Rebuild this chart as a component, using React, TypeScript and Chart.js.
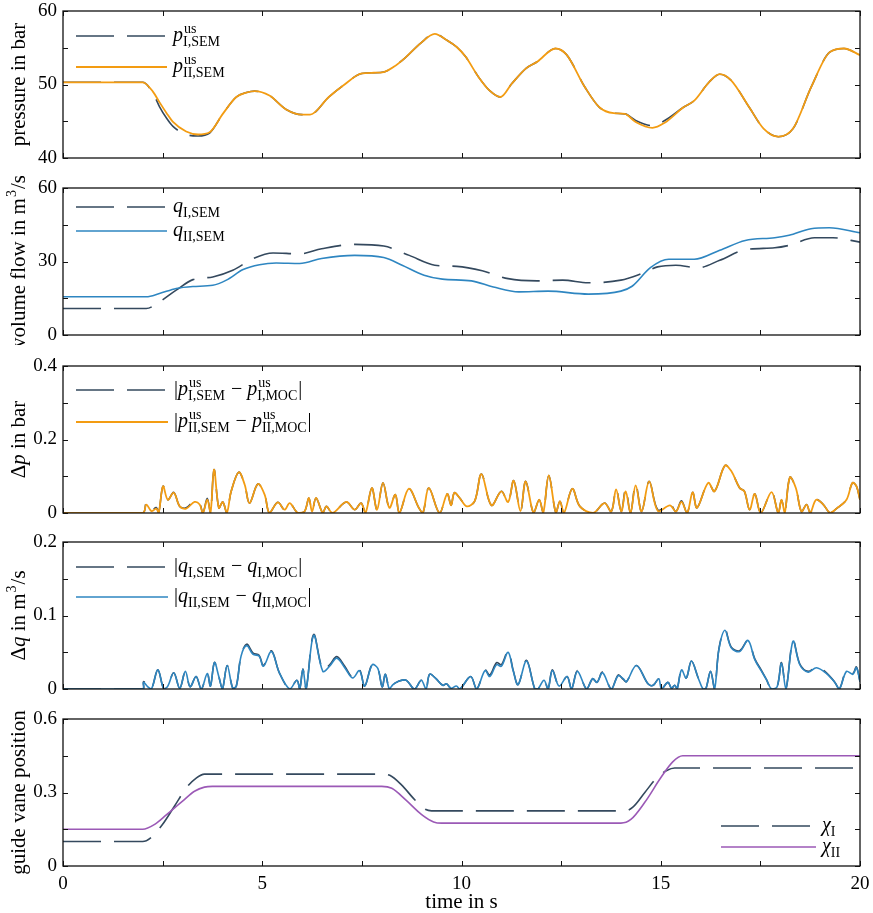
import React, { useEffect, useRef } from 'react';
import { Chart, registerables } from 'chart.js';
Chart.register(...registerables);

const FONT = '"Liberation Serif", "Times New Roman", serif';
const DARK = '#34495e';
const ORANGE = '#f39c12';
const BLUE = '#2e86c1';
const PURPLE = '#9b59b6';

// ---------------- data ----------------
const xTicks = [0, 2.5, 5, 7.5, 10, 12.5, 15, 17.5, 20];
const xLabels = [0, 5, 10, 15, 20];

const pTicks = [40, 45, 50, 55, 60];
const pLabels = [40, 50, 60];
const qTicks = [0, 15, 30, 45, 60];
const qLabels = [0, 30, 60];
const dpTicks = [0, 0.1, 0.2, 0.3, 0.4];
const dpLabels = [0, 0.2, 0.4];
const dqTicks = [0, 0.05, 0.1, 0.15, 0.2];
const dqLabels = [0, 0.1, 0.2];
const chiTicks = [0, 0.15, 0.3, 0.45, 0.6];
const chiLabels = [0, 0.3, 0.6];

type Pt = [number, number];

const pII: Pt[] = [[0, 50.3], [1, 50.3], [2.0, 50.3], [2.26, 49.0], [2.42, 47.6], [2.6, 46.1], [2.76, 44.9], [3.09, 43.6], [3.39, 43.2], [3.68, 43.5], [4.01, 46.0], [4.35, 48.3], [4.6, 48.9], [4.81, 49.1], [5.18, 48.5], [5.6, 46.6], [6.0, 45.9], [6.2, 45.9], [6.67, 48.3], [7.04, 49.9], [7.5, 51.5], [7.8, 51.6], [8.05, 51.7], [8.3, 52.4], [8.6, 53.7], [8.97, 55.6], [9.33, 56.9], [9.61, 56.1], [9.88, 55.1], [10.1, 53.8], [10.43, 51.0], [10.7, 49.2], [10.98, 48.3], [11.26, 50.1], [11.62, 52.2], [11.9, 53.1], [12.36, 54.9], [12.63, 54.1], [13.09, 49.7], [13.46, 46.9], [13.82, 46.1], [14.1, 46.0], [14.37, 44.9], [14.79, 44.1], [15.1, 44.8], [15.57, 46.9], [15.84, 47.8], [16.21, 50.3], [16.48, 51.4], [16.76, 50.6], [17.22, 46.9], [17.58, 44.0], [17.95, 42.9], [18.32, 44.0], [18.78, 49.7], [19.24, 54.4], [19.6, 54.9], [20, 54.0]];
const pI: Pt[] = [[0, 50.3], [1, 50.3], [2.0, 50.3], [2.26, 48.8], [2.42, 47.0], [2.6, 45.4], [2.76, 44.3], [3.09, 43.2], [3.39, 43.0], [3.68, 43.4], [4.01, 46.0], [4.35, 48.3], [4.6, 48.9], [4.81, 49.1], [5.18, 48.5], [5.6, 46.6], [6.0, 45.9], [6.2, 45.9], [6.67, 48.3], [7.04, 49.9], [7.5, 51.5], [7.8, 51.6], [8.05, 51.7], [8.3, 52.4], [8.6, 53.7], [8.97, 55.6], [9.33, 56.9], [9.61, 56.1], [9.88, 55.1], [10.1, 53.8], [10.43, 51.0], [10.7, 49.2], [10.98, 48.3], [11.26, 50.1], [11.62, 52.2], [11.9, 53.1], [12.36, 54.9], [12.63, 54.1], [13.09, 49.7], [13.46, 46.9], [13.82, 46.1], [14.1, 46.0], [14.37, 45.1], [14.79, 44.4], [15.1, 45.1], [15.57, 46.9], [15.84, 47.8], [16.21, 50.3], [16.48, 51.4], [16.76, 50.6], [17.22, 46.9], [17.58, 44.0], [17.95, 42.9], [18.32, 44.0], [18.78, 49.7], [19.24, 54.4], [19.6, 54.9], [20, 54.0]];

const qI: Pt[] = [[0, 10.8], [1, 10.8], [2.09, 10.8], [2.42, 13.5], [2.84, 18.3], [3.26, 22.6], [3.76, 23.7], [4.26, 26.4], [4.77, 31.2], [5.27, 33.5], [5.94, 33.1], [6.49, 35.2], [7.32, 37.0], [8.05, 36.3], [8.69, 32.5], [9.33, 28.5], [9.88, 28.0], [10.52, 26.2], [11.17, 23.0], [11.9, 22.1], [12.54, 22.4], [13.18, 21.3], [14.0, 22.4], [14.46, 24.7], [14.92, 27.8], [15.38, 28.5], [15.93, 27.4], [16.48, 30.5], [17.12, 34.8], [17.86, 35.6], [18.22, 36.6], [18.86, 39.7], [19.32, 39.7], [20, 37.9]];
const qII: Pt[] = [[0, 15.6], [1, 15.6], [2.09, 15.6], [2.42, 16.9], [2.84, 19.0], [3.26, 19.8], [3.76, 20.3], [4.1, 22.4], [4.52, 26.7], [4.93, 28.7], [5.35, 29.4], [5.94, 29.2], [6.49, 31.2], [7.32, 32.5], [8.05, 31.6], [8.51, 28.5], [9.06, 24.4], [9.52, 22.8], [10.25, 22.1], [10.8, 19.6], [11.44, 17.6], [12.17, 17.9], [13.18, 16.7], [14.0, 17.9], [14.28, 19.9], [14.74, 27.5], [15.2, 30.9], [15.84, 30.9], [16.48, 34.6], [17.12, 38.6], [17.86, 39.7], [18.22, 40.7], [18.77, 43.4], [19.23, 43.8], [20, 41.7]];

const dpII: Pt[] = [[0, 0], [2.0, 0], [2.09, 0.023], [2.22, 0.005], [2.34, 0.012], [2.4, 0], [2.51, 0.073], [2.63, 0.036], [2.78, 0.055], [2.93, 0.018], [3.09, 0.012], [3.3, 0.03], [3.43, 0.023], [3.51, 0], [3.62, 0.036], [3.7, 0], [3.79, 0.118], [3.91, 0.014], [4.01, 0.03], [4.11, 0], [4.22, 0.059], [4.41, 0.111], [4.56, 0.077], [4.68, 0.027], [4.89, 0.079], [5.06, 0.05], [5.18, 0], [5.39, 0.029], [5.56, 0.009], [5.69, 0.027], [5.89, 0], [6.06, 0.004], [6.17, 0.041], [6.25, 0.004], [6.35, 0.041], [6.52, 0], [6.61, 0.018], [6.76, 0], [7.11, 0.03], [7.32, 0.009], [7.48, 0.027], [7.59, 0], [7.75, 0.068], [7.88, 0.009], [8.03, 0.082], [8.19, 0.014], [8.34, 0.05], [8.44, 0], [8.68, 0.066], [8.93, 0.014], [9.03, 0], [9.18, 0.068], [9.45, 0], [9.64, 0.052], [9.74, 0.021], [9.82, 0.055], [9.96, 0.04], [10.13, 0.018], [10.33, 0.032], [10.5, 0.106], [10.75, 0.021], [11.0, 0.059], [11.17, 0.03], [11.31, 0.088], [11.48, 0.005], [11.61, 0.086], [11.81, 0], [11.95, 0.036], [12.05, 0], [12.19, 0.102], [12.37, 0], [12.47, 0.032], [12.57, 0], [12.78, 0.066], [12.97, 0.018], [13.3, 0], [13.59, 0.027], [13.76, 0.004], [13.88, 0.064], [14.01, 0.004], [14.12, 0.059], [14.24, 0], [14.37, 0.075], [14.52, 0.004], [14.71, 0.086], [14.93, 0.005], [15.23, 0.021], [15.38, 0.004], [15.52, 0.03], [15.66, 0], [15.8, 0.056], [15.91, 0.014], [16.19, 0.082], [16.35, 0.059], [16.61, 0.129], [16.77, 0.114], [16.98, 0.068], [17.1, 0.059], [17.23, 0.009], [17.36, 0.052], [17.51, 0], [17.78, 0.057], [17.95, 0], [18.03, 0.036], [18.11, 0], [18.24, 0.097], [18.39, 0.068], [18.53, 0.004], [18.66, 0.023], [18.75, 0], [18.9, 0.036], [19.08, 0.023], [19.25, 0], [19.41, 0.012], [19.66, 0.036], [19.81, 0.082], [19.91, 0.073], [20, 0.036]];
const dpI: Pt[] = [[0, 0], [2.0, 0], [2.09, 0.027], [2.22, 0.008], [2.34, 0.015], [2.4, 0], [2.51, 0.073], [2.63, 0.036], [2.78, 0.056], [2.93, 0.018], [3.09, 0.014], [3.3, 0.033], [3.43, 0.025], [3.51, 0], [3.62, 0.04], [3.7, 0], [3.79, 0.118], [3.91, 0.014], [4.01, 0.03], [4.11, 0], [4.22, 0.059], [4.41, 0.111], [4.56, 0.077], [4.68, 0.027], [4.89, 0.079], [5.06, 0.05], [5.18, 0], [5.39, 0.029], [5.56, 0.009], [5.69, 0.027], [5.89, 0], [6.06, 0.004], [6.17, 0.041], [6.25, 0.004], [6.35, 0.041], [6.52, 0], [6.61, 0.018], [6.76, 0], [7.11, 0.03], [7.32, 0.009], [7.48, 0.027], [7.59, 0], [7.75, 0.068], [7.88, 0.009], [8.03, 0.082], [8.19, 0.014], [8.34, 0.05], [8.44, 0], [8.68, 0.066], [8.93, 0.014], [9.03, 0], [9.18, 0.068], [9.45, 0], [9.64, 0.052], [9.74, 0.021], [9.82, 0.055], [9.96, 0.04], [10.13, 0.018], [10.33, 0.032], [10.5, 0.106], [10.75, 0.021], [11.0, 0.059], [11.17, 0.03], [11.31, 0.088], [11.48, 0.005], [11.61, 0.086], [11.81, 0], [11.95, 0.036], [12.05, 0], [12.19, 0.102], [12.37, 0], [12.47, 0.032], [12.57, 0], [12.78, 0.066], [12.97, 0.018], [13.3, 0], [13.59, 0.027], [13.76, 0.004], [13.88, 0.066], [14.01, 0.004], [14.12, 0.066], [14.24, 0], [14.37, 0.079], [14.52, 0.004], [14.71, 0.086], [14.93, 0.008], [15.23, 0.024], [15.38, 0.004], [15.52, 0.033], [15.66, 0], [15.8, 0.056], [15.91, 0.014], [16.19, 0.082], [16.35, 0.059], [16.61, 0.129], [16.77, 0.114], [16.98, 0.068], [17.1, 0.059], [17.23, 0.009], [17.36, 0.052], [17.51, 0], [17.78, 0.057], [17.95, 0], [18.03, 0.036], [18.11, 0], [18.24, 0.097], [18.39, 0.068], [18.53, 0.004], [18.66, 0.023], [18.75, 0], [18.9, 0.036], [19.08, 0.023], [19.25, 0], [19.41, 0.012], [19.66, 0.036], [19.81, 0.082], [19.91, 0.073], [20, 0.036]];

const dqII: Pt[] = [[0, 0], [2.0, 0], [2.02, 0.009], [2.13, 0.003], [2.22, 0], [2.38, 0.026], [2.53, 0], [2.63, 0.004], [2.78, 0.022], [2.93, 0.001], [3.07, 0.024], [3.19, 0.003], [3.34, 0.017], [3.47, 0], [3.62, 0.021], [3.7, 0.004], [3.8, 0.036], [3.91, 0.017], [4.0, 0], [4.12, 0.032], [4.26, 0.001], [4.35, 0.004], [4.47, 0.045], [4.61, 0.059], [4.77, 0.047], [4.92, 0.045], [5.03, 0.031], [5.23, 0.051], [5.43, 0.022], [5.69, 0], [5.87, 0.012], [5.94, 0], [6.02, 0.027], [6.1, 0], [6.29, 0.073], [6.52, 0.024], [6.69, 0.031], [6.87, 0.042], [7.07, 0.029], [7.27, 0.015], [7.44, 0.025], [7.57, 0.004], [7.76, 0.033], [7.9, 0.028], [8.01, 0.003], [8.09, 0.02], [8.19, 0], [8.28, 0.006], [8.4, 0.01], [8.61, 0.012], [8.82, 0], [8.99, 0.012], [9.11, 0], [9.2, 0.02], [9.36, 0.014], [9.53, 0.005], [9.62, 0.007], [9.74, 0.001], [9.87, 0.004], [9.96, 0], [10.23, 0.017], [10.38, 0], [10.59, 0.025], [10.71, 0.017], [10.88, 0.033], [11.0, 0.031], [11.17, 0.05], [11.3, 0.024], [11.42, 0.006], [11.63, 0.038], [11.84, 0], [11.92, 0], [12.07, 0.012], [12.17, 0], [12.28, 0.025], [12.45, 0.004], [12.65, 0.017], [12.76, 0], [12.91, 0.024], [13.14, 0], [13.29, 0.014], [13.4, 0.009], [13.54, 0.022], [13.76, 0], [13.93, 0.018], [14.06, 0.014], [14.14, 0.01], [14.39, 0.032], [14.68, 0.007], [14.81, 0.005], [14.95, 0.014], [15.02, 0], [15.18, 0.009], [15.27, 0.001], [15.35, 0.005], [15.41, 0], [15.52, 0.026], [15.64, 0.015], [15.77, 0.038], [15.94, 0.015], [16.06, 0], [16.13, 0], [16.25, 0.024], [16.35, 0], [16.46, 0.054], [16.61, 0.08], [16.77, 0.056], [16.98, 0.051], [17.19, 0.066], [17.36, 0.04], [17.53, 0.024], [17.65, 0.013], [17.78, 0], [17.92, 0.003], [18.03, 0.035], [18.14, 0], [18.32, 0.065], [18.49, 0.033], [18.7, 0.023], [18.91, 0.029], [19.16, 0.021], [19.37, 0.009], [19.48, 0], [19.66, 0.024], [19.82, 0.02], [19.91, 0.029], [20, 0.01]];
const dqI: Pt[] = [[0, 0], [2.0, 0], [2.02, 0.01], [2.13, 0.003], [2.22, 0], [2.38, 0.026], [2.53, 0], [2.63, 0.004], [2.78, 0.022], [2.93, 0.001], [3.07, 0.024], [3.19, 0.003], [3.34, 0.017], [3.47, 0], [3.62, 0.021], [3.7, 0.004], [3.8, 0.036], [3.91, 0.017], [4.0, 0], [4.12, 0.032], [4.26, 0.001], [4.35, 0.004], [4.47, 0.046], [4.61, 0.061], [4.77, 0.049], [4.92, 0.046], [5.03, 0.032], [5.23, 0.052], [5.43, 0.022], [5.69, 0], [5.87, 0.012], [5.94, 0], [6.02, 0.027], [6.1, 0], [6.29, 0.074], [6.52, 0.026], [6.69, 0.033], [6.87, 0.044], [7.07, 0.031], [7.27, 0.016], [7.44, 0.026], [7.57, 0.004], [7.76, 0.034], [7.9, 0.028], [8.01, 0.003], [8.09, 0.02], [8.19, 0], [8.28, 0.006], [8.4, 0.01], [8.61, 0.012], [8.82, 0], [8.99, 0.012], [9.11, 0], [9.2, 0.02], [9.36, 0.014], [9.53, 0.005], [9.62, 0.007], [9.74, 0.001], [9.87, 0.004], [9.96, 0], [10.23, 0.017], [10.38, 0], [10.59, 0.026], [10.71, 0.019], [10.88, 0.036], [11.0, 0.033], [11.17, 0.052], [11.3, 0.025], [11.42, 0.006], [11.63, 0.039], [11.84, 0], [11.92, 0], [12.07, 0.012], [12.17, 0], [12.28, 0.026], [12.45, 0.004], [12.65, 0.017], [12.76, 0], [12.91, 0.025], [13.14, 0], [13.29, 0.014], [13.4, 0.009], [13.54, 0.023], [13.76, 0], [13.93, 0.019], [14.06, 0.013], [14.14, 0.01], [14.39, 0.032], [14.68, 0.007], [14.81, 0.005], [14.95, 0.014], [15.02, 0], [15.18, 0.009], [15.27, 0.001], [15.35, 0.005], [15.41, 0], [15.52, 0.026], [15.64, 0.015], [15.77, 0.038], [15.94, 0.015], [16.06, 0], [16.13, 0], [16.25, 0.024], [16.35, 0], [16.46, 0.055], [16.61, 0.081], [16.77, 0.057], [16.98, 0.052], [17.19, 0.066], [17.36, 0.041], [17.53, 0.025], [17.65, 0.013], [17.78, 0], [17.92, 0.003], [18.03, 0.036], [18.14, 0], [18.32, 0.066], [18.49, 0.034], [18.7, 0.024], [18.91, 0.03], [19.16, 0.022], [19.37, 0.009], [19.48, 0], [19.66, 0.025], [19.82, 0.021], [19.91, 0.03], [20, 0.01]];

const chiI: Pt[] = [[0, 0.1], [1, 0.1], [2.0, 0.1], [2.2, 0.115], [2.5, 0.17], [2.8, 0.245], [3.1, 0.32], [3.35, 0.36], [3.55, 0.375], [4, 0.375], [8.0, 0.375], [8.2, 0.37], [8.5, 0.33], [8.8, 0.275], [9.05, 0.235], [9.25, 0.225], [10, 0.225], [14.1, 0.225], [14.3, 0.24], [14.6, 0.3], [14.9, 0.36], [15.15, 0.39], [15.35, 0.4], [16, 0.4], [20, 0.4]];
const chiII: Pt[] = [[0, 0.15], [1, 0.15], [2.0, 0.15], [2.3, 0.17], [2.6, 0.21], [3.0, 0.265], [3.3, 0.305], [3.55, 0.322], [3.75, 0.325], [4, 0.325], [8.0, 0.325], [8.25, 0.317], [8.6, 0.27], [9.0, 0.21], [9.3, 0.18], [9.5, 0.175], [10, 0.175], [14.0, 0.175], [14.25, 0.19], [14.6, 0.26], [15.0, 0.36], [15.3, 0.425], [15.55, 0.45], [16, 0.45], [20, 0.45]];

// ---------------- rich text ----------------
type Seg = { t?: string; it?: boolean; sup?: string; sub?: string };

function drawSegs(ctx: CanvasRenderingContext2D, x0: number, y: number, segs: Seg[], base: number, small: number, draw: boolean): number {
  let x = x0;
  for (const s of segs) {
    if (s.sup !== undefined || s.sub !== undefined) {
      ctx.font = `${small}px ${FONT}`;
      let w = 0;
      if (s.sup) {
        if (draw) ctx.fillText(s.sup, x + 1, y - base * 0.42);
        w = Math.max(w, ctx.measureText(s.sup).width + 1);
      }
      if (s.sub) {
        if (draw) ctx.fillText(s.sub, x, y + base * 0.26);
        w = Math.max(w, ctx.measureText(s.sub).width);
      }
      x += w + 1;
    } else {
      ctx.font = `${s.it ? 'italic ' : ''}${base}px ${FONT}`;
      if (draw) ctx.fillText(s.t || '', x, y);
      x += ctx.measureText(s.t || '').width;
    }
  }
  return x - x0;
}

interface SeriesDef { data: Pt[]; color: string; dash: number[]; width: number; order: number; mono: boolean }
interface PanelDef {
  top: number;
  yMin: number; yMax: number; yTicks: number[]; yLabels: number[];
  series: SeriesDef[];
  title: Seg[];
  legend: { dx: number; rows: number[]; sampleW: number; items: Seg[][] };
  bottom?: boolean;
}

const DASH = [38, 13];
const PAD_TOP = 12;
const AREA_H = 147;
const LEFT = 63;
const RIGHT_PAD = 13;
const TICK_FONT = 19;
const TITLE_FONT = 21;
const LEG_FONT = 20;
const LEG_SMALL = 14;

const PANELS: PanelDef[] = [
  {
    top: 11, yMin: 40, yMax: 60, yTicks: pTicks, yLabels: pLabels,
    series: [
      { data: pI, color: DARK, dash: DASH, width: 1.6, order: 2, mono: true },
      { data: pII, color: ORANGE, dash: [], width: 1.8, order: 1, mono: true },
    ],
    title: [{ t: 'pressure in bar' }],
    legend: { dx: 13, rows: [25, 56], sampleW: 91, items: [
      [{ t: 'p', it: true }, { sup: 'us', sub: 'I,SEM' }],
      [{ t: 'p', it: true }, { sup: 'us', sub: 'II,SEM' }],
    ] },
  },
  {
    top: 188, yMin: 0, yMax: 60, yTicks: qTicks, yLabels: qLabels,
    series: [
      { data: qI, color: DARK, dash: DASH, width: 1.6, order: 2, mono: true },
      { data: qII, color: BLUE, dash: [], width: 1.6, order: 1, mono: true },
    ],
    title: [{ t: 'volume flow in m' }, { sup: '3' }, { t: '/s' }],
    legend: { dx: 13, rows: [19, 43], sampleW: 91, items: [
      [{ t: 'q', it: true }, { sub: 'I,SEM' }],
      [{ t: 'q', it: true }, { sub: 'II,SEM' }],
    ] },
  },
  {
    top: 366, yMin: 0, yMax: 0.4, yTicks: dpTicks, yLabels: dpLabels,
    series: [
      { data: dpI, color: DARK, dash: DASH, width: 1.6, order: 2, mono: false },
      { data: dpII, color: ORANGE, dash: [], width: 1.8, order: 1, mono: false },
    ],
    title: [{ t: 'Δ' }, { t: 'p', it: true }, { t: ' in bar' }],
    legend: { dx: 13, rows: [24, 56], sampleW: 92, items: [
      [{ t: '|' }, { t: 'p', it: true }, { sup: 'us', sub: 'I,SEM' }, { t: ' − ' }, { t: 'p', it: true }, { sup: 'us', sub: 'I,MOC' }, { t: '|' }],
      [{ t: '|' }, { t: 'p', it: true }, { sup: 'us', sub: 'II,SEM' }, { t: ' − ' }, { t: 'p', it: true }, { sup: 'us', sub: 'II,MOC' }, { t: '|' }],
    ] },
  },
  {
    top: 542, yMin: 0, yMax: 0.2, yTicks: dqTicks, yLabels: dqLabels,
    series: [
      { data: dqI, color: DARK, dash: DASH, width: 1.6, order: 2, mono: false },
      { data: dqII, color: BLUE, dash: [], width: 1.6, order: 1, mono: false },
    ],
    title: [{ t: 'Δ' }, { t: 'q', it: true }, { t: ' in m' }, { sup: '3' }, { t: '/s' }],
    legend: { dx: 13, rows: [25, 55], sampleW: 92, items: [
      [{ t: '|' }, { t: 'q', it: true }, { sub: 'I,SEM' }, { t: ' − ' }, { t: 'q', it: true }, { sub: 'I,MOC' }, { t: '|' }],
      [{ t: '|' }, { t: 'q', it: true }, { sub: 'II,SEM' }, { t: ' − ' }, { t: 'q', it: true }, { sub: 'II,MOC' }, { t: '|' }],
    ] },
  },
  {
    top: 719, yMin: 0, yMax: 0.6, yTicks: chiTicks, yLabels: chiLabels,
    series: [
      { data: chiI, color: DARK, dash: DASH, width: 1.6, order: 2, mono: true },
      { data: chiII, color: PURPLE, dash: [], width: 1.6, order: 1, mono: true },
    ],
    title: [{ t: 'guide vane position' }],
    legend: { dx: 658, rows: [107, 128], sampleW: 95, items: [
      [{ t: 'χ', it: true }, { sub: 'I' }],
      [{ t: 'χ', it: true }, { sub: 'II' }],
    ] },
    bottom: true,
  },
];

const fmt = (v: number) => String(Number(v.toFixed(3)));

function decorPlugin(p: PanelDef) {
  return {
    id: 'decor',
    afterDraw(chart: any) {
      const ctx: CanvasRenderingContext2D = chart.ctx;
      const a = chart.chartArea;
      const xs = chart.scales.x;
      const ys = chart.scales.y;
      ctx.save();
      // frame
      ctx.strokeStyle = '#111';
      ctx.lineWidth = 1.3;
      ctx.setLineDash([]);
      ctx.strokeRect(a.left, a.top, a.right - a.left, a.bottom - a.top);
      // inward ticks
      ctx.lineWidth = 1;
      ctx.beginPath();
      for (const tk of xs.ticks) {
        const px = Math.round(xs.getPixelForValue(tk.value)) + 0.5;
        ctx.moveTo(px, a.bottom); ctx.lineTo(px, a.bottom - 5);
        ctx.moveTo(px, a.top); ctx.lineTo(px, a.top + 5);
      }
      for (const tk of ys.ticks) {
        const py = Math.round(ys.getPixelForValue(tk.value)) + 0.5;
        ctx.moveTo(a.left, py); ctx.lineTo(a.left + 5, py);
        ctx.moveTo(a.right, py); ctx.lineTo(a.right - 5, py);
      }
      ctx.stroke();
      // y title
      ctx.fillStyle = '#000';
      ctx.textBaseline = 'alphabetic';
      ctx.textAlign = 'left';
      const cy = (a.top + a.bottom) / 2;
      ctx.save();
      ctx.translate(25, cy);
      ctx.rotate(-Math.PI / 2);
      const w = drawSegs(ctx, 0, 0, p.title, TITLE_FONT, 14, false);
      drawSegs(ctx, -w / 2, 0, p.title, TITLE_FONT, 14, true);
      ctx.restore();
      // legend
      p.legend.items.forEach((items, i) => {
        const ds = chart.data.datasets[i];
        const lx = a.left + p.legend.dx;
        const ly = a.top + p.legend.rows[i];
        ctx.save();
        ctx.strokeStyle = ds.borderColor;
        ctx.lineWidth = ds.borderWidth;
        ctx.setLineDash(ds.borderDash || []);
        ctx.beginPath();
        ctx.moveTo(lx, ly);
        ctx.lineTo(lx + p.legend.sampleW, ly);
        ctx.stroke();
        ctx.restore();
        ctx.fillStyle = '#000';
        drawSegs(ctx, lx + p.legend.sampleW + 6, ly + 5, items, LEG_FONT, LEG_SMALL, true);
      });
      ctx.restore();
    },
  };
}

function buildConfig(p: PanelDef): any {
  return {
    type: 'line',
    data: {
      datasets: p.series.map((s) => ({
        data: s.data.map(([x, y]) => ({ x, y })),
        borderColor: s.color,
        borderWidth: s.width,
        borderDash: s.dash,
        pointRadius: 0,
        pointHoverRadius: 0,
        fill: false,
        order: s.order,
        tension: s.mono ? 0 : 0.35,
        cubicInterpolationMode: s.mono ? 'monotone' : 'default',
      })),
    },
    options: {
      responsive: false,
      maintainAspectRatio: false,
      animation: false,
      events: [],
      layout: { padding: { top: PAD_TOP, right: RIGHT_PAD, bottom: 0, left: 0 } },
      plugins: { legend: { display: false }, tooltip: { enabled: false } },
      scales: {
        x: {
          type: 'linear',
          min: 0,
          max: 20,
          afterBuildTicks: (s: any) => { s.ticks = xTicks.map((v) => ({ value: v })); },
          afterFit: (s: any) => {
            s.height = p.bottom ? 47 : 10;
            s.paddingLeft = 0; s.paddingRight = 0; s.paddingTop = 0; s.paddingBottom = 0;
          },
          grid: { display: false, drawTicks: false },
          border: { display: false },
          ticks: {
            display: !!p.bottom,
            autoSkip: false,
            maxRotation: 0,
            padding: 7,
            color: '#000',
            font: { family: FONT, size: TICK_FONT },
            callback: (v: number) => (xLabels.some((l) => Math.abs(l - v) < 1e-9) ? fmt(v) : ''),
          },
          title: {
            display: !!p.bottom,
            text: 'time in s',
            color: '#000',
            font: { family: FONT, size: TITLE_FONT, lineHeight: 1 },
            padding: 0,
          },
        },
        y: {
          type: 'linear',
          min: p.yMin,
          max: p.yMax,
          afterBuildTicks: (s: any) => { s.ticks = p.yTicks.map((v) => ({ value: v })); },
          afterFit: (s: any) => {
            s.width = LEFT;
            s.paddingLeft = 0; s.paddingRight = 0; s.paddingTop = 0; s.paddingBottom = 0;
          },
          grid: { display: false, drawTicks: false },
          border: { display: false },
          ticks: {
            autoSkip: false,
            padding: 6,
            color: '#000',
            font: { family: FONT, size: TICK_FONT },
            callback: (v: number) => (p.yLabels.some((l) => Math.abs(l - v) < 1e-9) ? fmt(v) : ''),
          },
        },
      },
    },
    plugins: [decorPlugin(p)],
  };
}

export default function App() {
  const refs = useRef<(HTMLCanvasElement | null)[]>([]);
  useEffect(() => {
    const charts = PANELS.map((p, i) => new Chart(refs.current[i] as HTMLCanvasElement, buildConfig(p)));
    return () => charts.forEach((c) => c.destroy());
  }, []);
  return (
    <div style={{ position: 'absolute', left: 0, top: 0, width: 873, height: 913, background: '#fff' }}>
      {PANELS.map((p, i) => {
        const top = p.top - PAD_TOP;
        const h = p.bottom ? 913 - top : PAD_TOP + AREA_H + 10;
        return (
          <canvas
            key={i}
            ref={(el) => { refs.current[i] = el; }}
            width={873}
            height={h}
            style={{ position: 'absolute', left: 0, top, width: 873, height: h }}
          />
        );
      })}
    </div>
  );
}
